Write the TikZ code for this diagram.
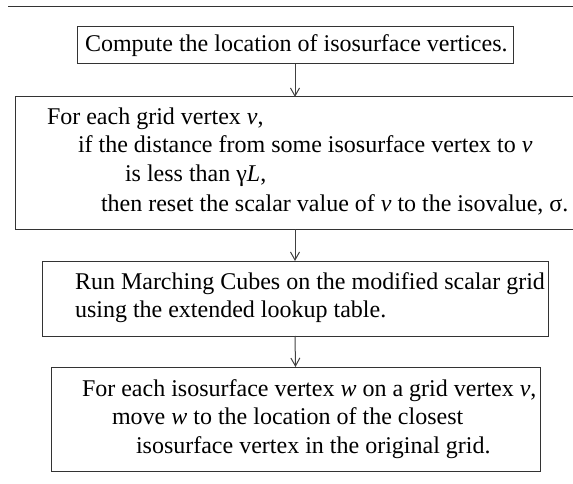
\documentclass[tikz,border=0pt]{standalone}
\usepackage{fontspec}
\setmainfont{Liberation Serif}
\usetikzlibrary{arrows.meta}
\tikzset{
  box/.style={draw=black!80, line width=1pt, rectangle, inner sep=0pt, outer sep=0pt},
  txt/.style={anchor=base west, inner sep=0pt, outer sep=0pt, font=\fontsize{24}{28.5}\selectfont},
  flow/.style={draw=black!75, line width=1pt, -{Straight Barb[length=8pt,width=9pt]}}
}
\begin{document}
\begin{tikzpicture}[x=1pt,y=-1pt]
\useasboundingbox (0,0) rectangle (573,484);
\clip (0,0) rectangle (573,484);
% top rule
\draw[black!80, line width=1pt] (8,7) -- (573,7);
% boxes
\node[box, minimum width=436pt, minimum height=37pt] (b1) at (295,45.5) {};
\node[box, minimum width=560pt, minimum height=132pt] (b2) at (295,163) {};
\node[box, minimum width=506pt, minimum height=75pt] (b3) at (295,298.5) {};
\node[box, minimum width=489pt, minimum height=104pt] (b4) at (295.5,419) {};
% texts
\node[txt] (t1) at (85,52) {Compute the location of isosurface vertices.};
\node[txt] (t21) at (47,125) {For each grid vertex \textit{v},};
\node[txt] (t22) at (78,153) {if the distance from some isosurface vertex to \textit{v}};
\node[txt] (t23) at (125,182) {is less than γ\textit{L},};
\node[txt] (t24) at (101,211) {then reset the scalar value of \textit{v} to the isovalue, σ.};
\node[txt] (t31) at (75,289) {Run Marching Cubes on the modified scalar grid};
\node[txt] (t32) at (75,317) {using the extended lookup table.};
\node[txt] (t41) at (82,396) {For each isosurface vertex \textit{w} on a grid vertex \textit{v},};
\node[txt] (t42) at (112,424) {move \textit{w} to the location of the closest};
\node[txt] (t43) at (136,453) {isosurface vertex in the original grid.};
% connectors
\draw[flow] (b1.south) -- (b2.north);
\draw[flow] (b2.south) -- (b3.north);
\draw[flow] (b3.south) -- (b4.north);
\end{tikzpicture}
\end{document}
